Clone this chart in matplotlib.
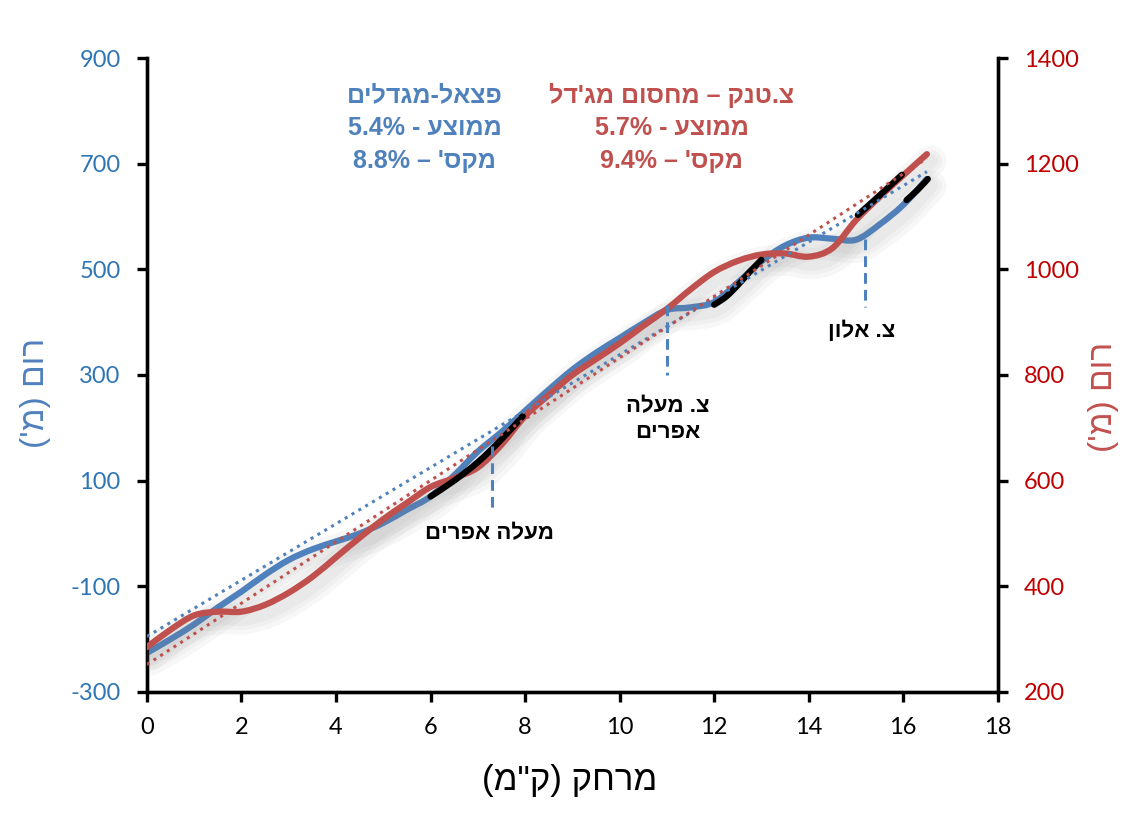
import re
import matplotlib
matplotlib.use("Agg")
import matplotlib.pyplot as plt
import matplotlib.patheffects as pe
from matplotlib.path import Path
from matplotlib.patches import PathPatch

# Data (km, m)
km = [0, 0.5, 1, 1.5, 2, 2.5, 3, 3.5, 4, 4.5, 5, 5.5, 6, 6.5, 7, 7.5, 8, 8.5,
      9, 9.5, 10, 10.5, 11, 11.5, 12, 12.5, 13, 13.5, 14, 14.5, 15, 15.5, 16, 16.5]
pazael = [-226, -200, -172, -140, -110, -78, -50, -30, -15, 0, 20, 45, 70, 110,
          155, 192, 232, 272, 310, 342, 370, 398, 423, 428, 438, 475, 515, 545,
          560, 558, 556, 585, 622, 671]
tank = [285, 318, 345, 352, 352, 365, 388, 418, 455, 492, 527, 558, 588, 605,
        625, 668, 722, 762, 800, 830, 860, 893, 925, 962, 995, 1016, 1028, 1030,
        1024, 1040, 1093, 1137, 1178, 1218]

# steep sections (left axis units)
steep_x = [[6.0, 6.5, 7.0, 7.5, 7.95],
           [12.0, 12.25, 12.5, 12.75, 13.0],
           [15.04, 15.5, 15.97],
           [16.07, 16.3, 16.52]]
steep_y = [[70, 100, 135, 178, 222],
           [433, 448, 470, 495, 518],
           [603, 640, 679],
           [631, 650, 671]]

trend_x = [0, 16.5]
trend_blue = [-195, 685]
trend_red = [252, 1210]

# annotations: x, top, bottom, label, label x, label y
marks = [(7.3, 165, 40, "מעלה אפרים", 7.25, 0),
         (11.0, 433, 300, "צ. מעלה\nאפרים", 11.02, 215),
         (15.2, 558, 428, "צ. אלון", 15.12, 382)]

blue_head = ["פצאל-מגדלים", "ממוצע - 5.4%", "מקס' – 8.8%"]
red_head = ["צ.טנק – מחסום מג'דל", "ממוצע - 5.7%", "מקס' – 9.4%"]

BLUE = "#4F81BD"
RED = "#C0504D"
HEB = ["Liberation Sans", "DejaVu Sans"]

plt.rcParams["axes.unicode_minus"] = False


def vis(s):
    # matplotlib has no bidi, so turn logical Hebrew into visual order
    out = []
    for line in s.split("\n"):
        parts = re.split(r"([0-9][0-9.%]*)", line)
        parts = [p for p in parts if p]
        res = []
        for p in reversed(parts):
            if re.match(r"[0-9]", p):
                res.append(p)
            else:
                t = p[::-1].replace("(", "\0").replace(")", "(").replace("\0", ")")
                res.append(t)
        out.append("".join(res))
    return "\n".join(out)


def smooth(xs, ys):
    # bezier through the points, like excel's smoothed line
    pts = list(zip(xs, ys))
    verts = [pts[0]]
    codes = [Path.MOVETO]
    n = len(pts)
    for i in range(n - 1):
        p0 = pts[max(i - 1, 0)]
        p1 = pts[i]
        p2 = pts[i + 1]
        p3 = pts[min(i + 2, n - 1)]
        c1 = (p1[0] + (p2[0] - p0[0]) / 6, p1[1] + (p2[1] - p0[1]) / 6)
        c2 = (p2[0] - (p3[0] - p1[0]) / 6, p2[1] - (p3[1] - p1[1]) / 6)
        verts += [c1, c2, p2]
        codes += [Path.CURVE4] * 3
    return Path(verts, codes)


def shadow(lw):
    return [pe.SimpleLineShadow(offset=(3, -5), shadow_color="gray", alpha=0.06,
                                linewidth=lw * k) for k in (5, 3.5, 2.2)] + [pe.Normal()]


def draw(a, xs, ys, color, lw, z, shade=True):
    patch = PathPatch(smooth(xs, ys), fill=False, edgecolor=color, lw=lw,
                      capstyle="round", joinstyle="round", zorder=z)
    if shade:
        patch.set_path_effects(shadow(lw))
    a.add_patch(patch)


def main():
    fig = plt.figure(figsize=(11.39, 8.23), dpi=100)
    ax = fig.add_axes([0.129, 0.1592, 0.747, 0.7703])
    ax2 = ax.twinx()

    ax.set_xlim(0, 18)
    ax.set_ylim(-300, 900)
    ax2.set_ylim(200, 1400)

    lw = 4.5
    draw(ax2, km, [v + 500 for v in pazael], BLUE, lw, 2)
    draw(ax2, km, tank, RED, lw, 3)
    for sx, sy in zip(steep_x, steep_y):
        draw(ax2, sx, [v + 500 for v in sy], "black", lw, 4, shade=False)

    ax2.plot(trend_x, [v + 500 for v in trend_blue], color=BLUE, lw=2.2,
             ls=(0, (1, 1.6)), zorder=5)
    ax2.plot(trend_x, trend_red, color=RED, lw=2.2, ls=(0, (1, 1.6)), zorder=5)

    for x, top, bot, txt, tx, ty in marks:
        ax2.plot([x, x], [top + 500, bot + 500], color=BLUE, lw=2.2,
                 ls=(0, (3.5, 2)), zorder=6)
        ax2.text(tx, ty + 500, vis(txt), ha="center", va="center", fontsize=16,
                 fontweight="bold", family=HEB, color="black", linespacing=1.3)

    head_y = [830, 768, 705]
    for i in range(3):
        ax.text(5.88, head_y[i], vis(blue_head[i]), ha="center", va="center",
                fontsize=18, fontweight="bold", family=HEB, color=BLUE)
        ax.text(11.1, head_y[i], vis(red_head[i]), ha="center", va="center",
                fontsize=18, fontweight="bold", family=HEB, color=RED)

    ax.set_xticks(range(0, 19, 2))
    ax.set_yticks(range(-300, 901, 200))
    ax2.set_yticks(range(200, 1401, 200))

    for a in (ax, ax2):
        a.spines["top"].set_visible(False)
        for s in ("left", "right", "bottom"):
            a.spines[s].set_linewidth(2.4)
            a.spines[s].set_color("black")
    ax.tick_params(axis="x", length=7, width=2.4, direction="out", pad=11,
                   labelsize=17, labelcolor="black")
    ax.tick_params(axis="y", length=7, width=2.4, direction="out", pad=12,
                   labelsize=17, labelcolor="#2E75B6")
    ax2.tick_params(axis="y", length=7, width=2.4, direction="out", pad=12,
                    labelsize=17, labelcolor="#C00000")
    for lab in ax.get_xticklabels() + ax.get_yticklabels() + ax2.get_yticklabels():
        lab.set_family(["Lato", "DejaVu Sans"])

    fig.text(0.5, 0.052, vis('מרחק (ק"מ)'), ha="center", va="center",
             fontsize=25, family=HEB, color="black")
    fig.text(0.031, 0.522, vis("רום (מ')"), ha="center", va="center",
             rotation=90, fontsize=24, family=HEB, color=BLUE)
    fig.text(0.969, 0.518, vis("רום (מ')"), ha="center", va="center",
             rotation=90, fontsize=24, family=HEB, color=RED)

    fig.savefig("out.png", dpi=100)


if __name__ == "__main__":
    main()
